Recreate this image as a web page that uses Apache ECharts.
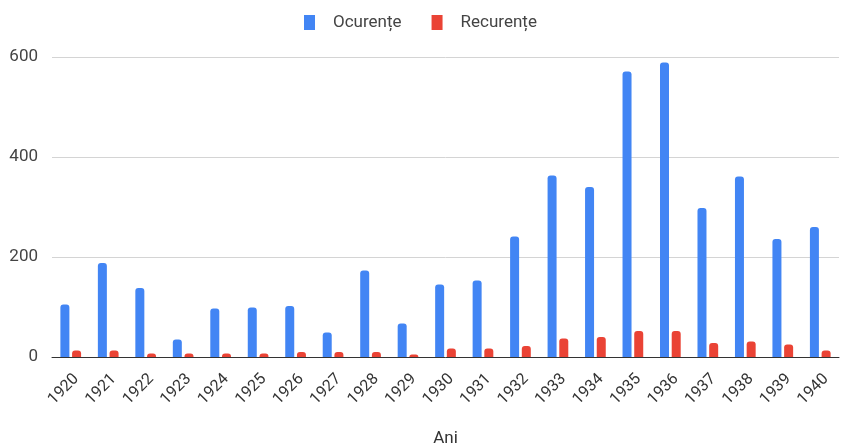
<!DOCTYPE html>
<html>
<head>
<meta charset="utf-8">
<script src="https://cdn.jsdelivr.net/npm/echarts@6/dist/echarts.min.js"></script>
<style>
  html, body { margin: 0; padding: 0; background: #fff; }
  #chart { width: 843px; height: 447px; }
</style>
</head>
<body>
<div id="chart"></div>
<script>
var years = ["1920","1921","1922","1923","1924","1925","1926","1927","1928","1929","1930",
             "1931","1932","1933","1934","1935","1936","1937","1938","1939","1940"];
var ocurente = [105, 188, 138, 35, 97, 99, 102, 49, 173, 67, 145,
                153, 241, 363, 340, 571, 589, 298, 361, 236, 260];
var recurente = [13, 13, 7, 7, 7, 7, 10, 10, 10, 5, 17,
                 17, 22, 37, 40, 52, 52, 28, 31, 25, 13];
var yTicks = [0, 200, 400, 600];

var myChart = echarts.init(document.getElementById("chart"));

var option = {
    animation: false,
    textStyle: { fontFamily: "Roboto, Arial, sans-serif" },
    legend: {
        top: 9,
        left: 299,
        icon: "rect",
        itemWidth: 11,
        itemHeight: 15,
        itemGap: 30,
        textStyle: { fontSize: 17, color: "#444", padding: [0, 0, 0, 13] },
        data: ["Ocurențe", "Recurențe"]
    },
    grid: {
        left: 52,
        right: 4,
        top: 57,
        bottom: 90,
        containLabel: false,
        outerBoundsMode: "none"
    },
    xAxis: {
        type: "category",
        data: years,
        name: "Ani",
        nameLocation: "middle",
        nameGap: 73,
        nameTextStyle: { fontSize: 17, color: "#333" },
        axisTick: { show: false },
        axisLine: { lineStyle: { color: "#333", width: 1 } },
        axisLabel: {
            rotate: 45,
            fontSize: 16,
            color: "#333",
            margin: 14,
            verticalAlign: "top",
            interval: 0
        }
    },
    yAxis: {
        type: "value",
        min: yTicks[0],
        max: yTicks[yTicks.length - 1],
        interval: 200,
        axisLine: { show: false },
        axisTick: { show: false },
        splitLine: { lineStyle: { color: "#d4d4d4", width: 1 } },
        axisLabel: { fontSize: 17, color: "#444", margin: 14 }
    },
    series: [
        {
            name: "Ocurențe",
            type: "bar",
            barWidth: 9,
            barGap: "30%",
            data: ocurente,
            itemStyle: { color: "#4285f4", borderRadius: [3, 3, 0, 0] }
        },
        {
            name: "Recurențe",
            type: "bar",
            barWidth: 9,
            data: recurente,
            itemStyle: { color: "#ea4335", borderRadius: [3, 3, 0, 0] }
        }
    ]
};

myChart.setOption(option);
</script>
</body>
</html>
